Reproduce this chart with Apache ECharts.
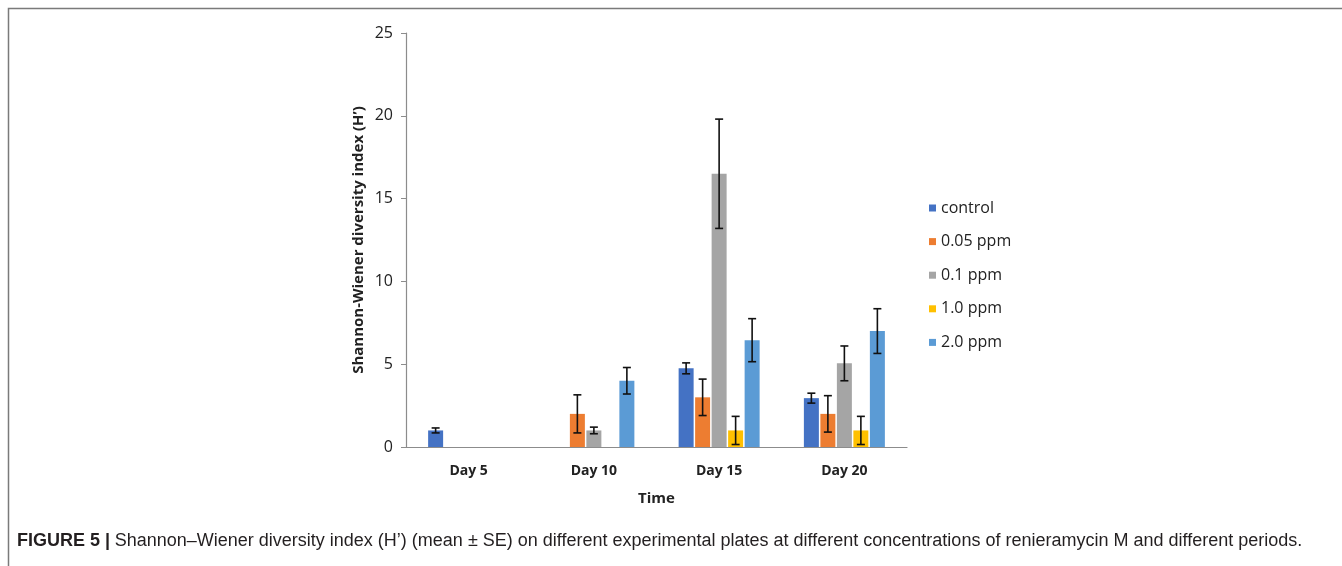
<!DOCTYPE html>
<html>
<head>
<meta charset="utf-8">
<script src="https://cdn.jsdelivr.net/npm/echarts@6/dist/echarts.min.js"></script>
<style>
html,body{margin:0;padding:0;background:#fff;}
#chart{width:1342px;height:566px;}
</style>
</head>
<body>
<div id="chart"></div>
<script>
const categories = ['Day 5', 'Day 10', 'Day 15', 'Day 20'];
const seriesNames = ['control', '0.05 ppm', '0.1 ppm', '1.0 ppm', '2.0 ppm'];
const control = [1.0, null, 4.75, 2.95];
const ppm005 = [null, 2.0, 3.0, 2.0];
const ppm01 = [null, 1.0, 16.5, 5.05];
const ppm10 = [null, null, 1.0, 1.0];
const ppm20 = [null, 4.0, 6.45, 7.0];
const seControl = [0.15, null, 0.33, 0.3];
const se005 = [null, 1.15, 1.1, 1.1];
const se01 = [null, 0.2, 3.3, 1.05];
const se10 = [null, null, 0.85, 0.85];
const se20 = [null, 0.8, 1.3, 1.35];
const yTicks = [0, 5, 10, 15, 20, 25];
const caption = 'Shannon–Wiener diversity index (H’) (mean ± SE) on different experimental plates at different concentrations of renieramycin M and different periods.';

const means = [control, ppm005, ppm01, ppm10, ppm20];
const ses = [seControl, se005, se01, se10, se20];
const colors = ['#4472C4', '#ED7D31', '#A5A5A5', '#FFC000', '#5B9BD5'];

const BAR_W = 15, BAR_GAP = 1.5;

const errData = [];
means.forEach((arr, s) => {
  arr.forEach((v, c) => {
    if (v != null && ses[s][c] != null) errData.push([c, s, v, ses[s][c]]);
  });
});

const chart = echarts.init(document.getElementById('chart'), null, {renderer: 'canvas'});

const barSeries = seriesNames.map((name, i) => ({
  name: name,
  type: 'bar',
  data: means[i].map(v => v == null ? '-' : v),
  barWidth: BAR_W,
  barGap: '10%',
  itemStyle: {color: colors[i]},
  emphasis: {disabled: true}
}));

const errSeries = {
  type: 'custom',
  name: 'err',
  data: errData,
  z: 10,
  silent: true,
  encode: {x: 0, y: 2},
  renderItem: function (params, api) {
    const c = api.value(0), s = api.value(1), m = api.value(2), se = api.value(3);
    const off = (s - 2) * (BAR_W + BAR_GAP);
    const top = api.coord([c, m + se]);
    const bot = api.coord([c, m - se]);
    const x = top[0] + off;
    const hw = 4;
    const st = {stroke: '#111', lineWidth: 1.6};
    return {
      type: 'group',
      children: [
        {type: 'line', shape: {x1: x, y1: top[1], x2: x, y2: bot[1]}, style: st},
        {type: 'line', shape: {x1: x - hw, y1: top[1], x2: x + hw, y2: top[1]}, style: st},
        {type: 'line', shape: {x1: x - hw, y1: bot[1], x2: x + hw, y2: bot[1]}, style: st}
      ]
    };
  }
};

const font = '"Open Sans", "DejaVu Sans", sans-serif';
const capFont = '"Liberation Sans Narrow", "Liberation Sans", sans-serif';

chart.setOption({
  animation: false,
  textStyle: {fontFamily: font},
  color: colors,
  grid: {left: 406, top: 33, right: 435, bottom: 119, containLabel: false},
  title: {
    text: '{b|FIGURE 5 |} {r|' + caption + '}',
    left: 12,
    top: 527,
    textStyle: {
      fontWeight: 'normal',
      rich: {
        b: {fontFamily: capFont, fontWeight: 'bold', fontSize: 18, color: '#231F20'},
        r: {fontFamily: capFont, fontWeight: 'normal', fontSize: 18, color: '#231F20'}
      }
    }
  },
  graphic: [{
    type: 'polyline',
    shape: {points: [[8.5, 566], [8.5, 8.5], [1342, 8.5]]},
    style: {stroke: '#7a7a7a', lineWidth: 1.5, fill: null},
    silent: true
  }],
  legend: {
    orient: 'vertical',
    left: 924,
    top: 195,
    itemWidth: 7,
    itemHeight: 7,
    itemGap: 17.6,
    icon: 'rect',
    data: seriesNames,
    textStyle: {fontSize: 16, color: '#222', fontFamily: font}
  },
  xAxis: {
    type: 'category',
    data: categories,
    axisTick: {show: false},
    axisLine: {lineStyle: {color: '#8c8c8c', width: 1.2}},
    axisLabel: {fontSize: 14, fontWeight: 'bold', color: '#222', margin: 17, fontFamily: font},
    name: 'Time',
    nameLocation: 'middle',
    nameGap: 44,
    nameTextStyle: {fontSize: 15, fontWeight: 'bold', color: '#222', fontFamily: font}
  },
  yAxis: {
    type: 'value',
    min: 0,
    max: 25,
    interval: 5,
    splitLine: {show: false},
    axisLine: {show: true, lineStyle: {color: '#8c8c8c', width: 1.2}},
    axisTick: {show: true, length: 5, lineStyle: {color: '#8c8c8c'}},
    axisLabel: {fontSize: 16, color: '#222', margin: 13, fontFamily: font,
      formatter: v => yTicks.includes(v) ? String(v) : ''},
    name: 'Shannon-Wiener diversity index (H’)',
    nameLocation: 'middle',
    nameGap: 40,
    nameTextStyle: {fontSize: 15, fontWeight: 'bold', color: '#222', fontFamily: font}
  },
  series: barSeries.concat([errSeries])
});
</script>
</body>
</html>
